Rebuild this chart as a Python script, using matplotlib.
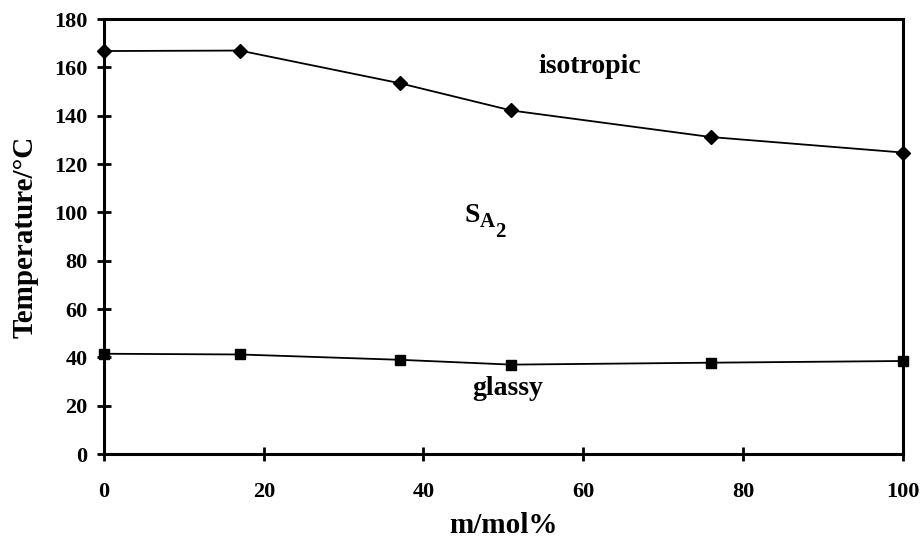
import numpy as np
import matplotlib
matplotlib.use("Agg")
import matplotlib.pyplot as plt

plt.rcParams['font.family'] = ['Liberation Serif', 'DejaVu Serif']
plt.rcParams['font.weight'] = 'bold'

# composition (m/mol%)
x = [0, 17, 37, 51, 76, 100]
# clearing temperature (isotropic)
t_iso = [166.8, 167.0, 153.5, 142.2, 131.2, 124.8]
# glass transition
t_g = [41.5, 41.2, 39.0, 37.0, 37.8, 38.5]

fig = plt.figure(figsize=(9.21, 5.47), dpi=100)
ax = fig.add_axes([0.113, 0.170, 0.867, 0.795])

ax.plot(x, t_iso, color='black', lw=1.3, marker='D', ms=7, clip_on=False, zorder=3)
ax.plot(x, t_g, color='black', lw=1.3, marker='s', ms=6.5, clip_on=False, zorder=3)

ax.set_xlim(0, 100)
ax.set_ylim(0, 180)
ax.set_xticks(np.arange(0, 101, 20))
ax.set_yticks(np.arange(0, 181, 20))

for s in ax.spines.values():
    s.set_linewidth(2.2)
ax.tick_params(direction='inout', length=10, width=2, labelsize=16)
ax.tick_params(axis='x', pad=15)
ax.tick_params(axis='y', pad=7)
for lab in ax.get_xticklabels() + ax.get_yticklabels():
    lab.set_fontweight('bold')

ax.set_xlabel('m/mol%', fontsize=21, fontweight='bold', labelpad=7)
ax.set_ylabel('Temperature/°C', fontsize=21, fontweight='bold', labelpad=11)

# phase region labels
ax.text(60.8, 160.2, 'isotropic', fontsize=20, fontweight='bold', ha='center', va='center')
ax.text(50.6, 27.3, 'glassy', fontsize=20, fontweight='bold', ha='center', va='center')

# S_A2 built from pieces so the subscripts stay large
ax.annotate('S', xy=(45.2, 98.6), fontsize=20, fontweight='bold', ha='left', va='center')
ax.annotate('A', xy=(45.2, 98.6), xytext=(10.8, -4.3), textcoords='offset points',
            fontsize=15, fontweight='bold', ha='left', va='center')
ax.annotate('2', xy=(45.2, 98.6), xytext=(21.6, -11.5), textcoords='offset points',
            fontsize=15, fontweight='bold', ha='left', va='center')

fig.savefig('out.png', dpi=100)
